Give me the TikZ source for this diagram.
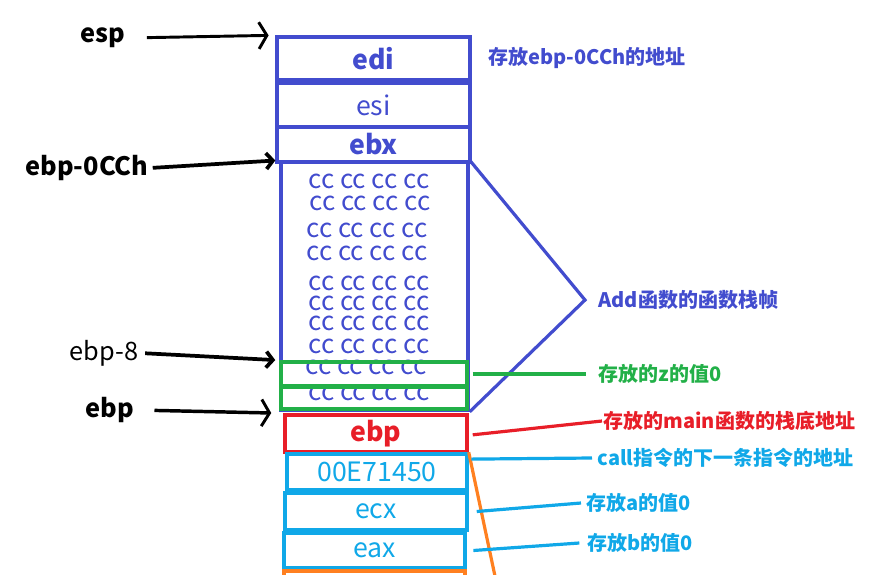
\documentclass[tikz,border=0pt]{standalone}
\usepackage{fontspec}
\setmainfont{Noto Sans CJK SC}
\usetikzlibrary{arrows.meta,fit}
\definecolor{cblue}{RGB}{66,76,206}
\definecolor{cred}{RGB}{232,30,40}
\definecolor{cgreen}{RGB}{34,176,72}
\definecolor{ccyan}{RGB}{16,168,232}
\definecolor{corange}{RGB}{255,128,32}
\tikzset{
  box/.style={draw=#1, line width=2.6pt, inner sep=0pt, rectangle},
  boxtext/.style={text=#1, inner sep=0pt, font=\fontsize{20}{22}\selectfont},
  ccrow/.style={text=cblue, inner sep=0pt, font=\fontsize{19.5}{21}\selectfont},
  rlabel/.style={anchor=west, inner sep=1pt, text=#1, font=\fontsize{15}{17}\selectfont\bfseries},
  llabel/.style={inner sep=1pt, text=black, font=\fontsize{19}{21}\selectfont},
  ptr/.style={draw=black, line width=2.8pt, -{Straight Barb[length=5pt,width=12pt,line width=2.8pt]}},
  ptrthin/.style={draw=black, line width=2.2pt, -{Straight Barb[length=6pt,width=20pt,line width=2.2pt]}},
  lead/.style={draw=#1, line width=2.4pt}
}
\begin{document}
\begin{tikzpicture}[x=0.75pt,y=-0.75pt]
\useasboundingbox (0,0) rectangle (883,575);
\clip (0,0) rectangle (883,575);
% stack boxes
\node[box=cblue, fit={(277,37) (470,80)}] (edi) {};
\node[box=cblue, fit={(277,83) (470,127)}] (esi) {};
\node[box=cblue, fit={(277,127) (470,162)}] (ebx) {};
\node[box=cblue, fit={(281,162) (468,410)}] (ccbox) {};
\node[boxtext=cblue] (editxt) at (edi.center) {\bfseries edi};
\node[boxtext=cblue] (esitxt) at (esi.center) {esi};
\node[boxtext=cblue] (ebxtxt) at (ebx.center) {\bfseries ebx};
\node[ccrow] (cc1) at (369,181) {cc cc cc cc};
\node[ccrow] (cc2) at (370,203) {cc cc cc cc};
\node[ccrow] (cc3) at (367,230) {cc cc cc cc};
\node[ccrow] (cc4) at (367,253) {cc cc cc cc};
\node[ccrow] (cc5) at (369,283) {cc cc cc cc};
\node[ccrow] (cc6) at (369,303) {cc cc cc cc};
\node[ccrow] (cc7) at (369,323) {cc cc cc cc};
\node[ccrow] (cc8) at (369,346) {cc cc cc cc};
\node[ccrow] (cc9) at (366,367) {cc cc cc cc};
\node[ccrow] (cc10) at (369,393) {cc cc cc cc};
\node[box=cgreen, fit={(281,362) (467,386)}] (zbox) {};
\node[box=cgreen, fit={(281,387) (467,409)}] (zbox2) {};
\node[box=cred, fit={(285,415) (467,452)}] (ebpbox) {};
\node[box=ccyan, fit={(287,454) (467,490)}] (ret) {};
\node[box=ccyan, fit={(285,493) (467,530)}] (ecx) {};
\node[box=ccyan, fit={(284,533) (465,568)}] (eax) {};
\node[boxtext=cred] (ebptxt) at (ebpbox.center) {\bfseries ebp};
\node[boxtext=ccyan] (rettxt) at (ret.center) {00E71450};
\node[boxtext=ccyan] (ecxtxt) at (ecx.center) {ecx};
\node[boxtext=ccyan] (eaxtxt) at (eax.center) {eax};
\node[box=corange, fit={(284,571) (465,600)}] (nextbox) {};
\coordinate (oend) at (499,595);
\draw[lead=corange] (ret.north east) -- (oend);
% bracket
\coordinate (tip) at (585,300);
\draw[lead=cblue, line join=miter] (ccbox.north east) -- (tip) -- (ccbox.south east);
% right labels
\node[rlabel=cblue] (topl) at (487,58) {存放ebp-0CCh的地址};
\node[rlabel=cblue] (addl) at (597,300) {Add函数的函数栈帧};
\node[rlabel=cgreen] (zl) at (597,374) {存放的z的值0};
\node[rlabel=cred] (mainl) at (602,421) {存放的main函数的栈底地址};
\node[rlabel=ccyan] (calll) at (596,458) {call指令的下一条指令的地址};
\node[rlabel=ccyan] (al) at (585,503) {存放a的值0};
\node[rlabel=ccyan] (bl) at (586,543) {存放b的值0};
\draw[lead=cgreen] ([xshift=3pt]zbox.east) -- ([xshift=-8pt]zl.west);
\draw[lead=cred] ([xshift=3pt,yshift=-1pt]ebpbox.east) -- (mainl.west);
\draw[lead=ccyan] ([xshift=2pt]ret.8) -- ([xshift=-3pt]calll.west);
\draw[lead=ccyan] ([xshift=6pt]ecx.east) -- ([xshift=-3pt]al.west);
\draw[lead=ccyan] ([xshift=5pt]eax.east) -- ([xshift=-5pt]bl.west);
% left pointers
\node[llabel] (espl) at (103,38) {\bfseries esp};
\node[llabel] (ccl) at (87,168) {\bfseries ebp-0CCh};
\node[llabel] (e8l) at (104,353) {ebp-8};
\node[llabel] (ebpl) at (110,410) {\bfseries ebp};
\draw[ptrthin, shorten <=15pt, shorten >=5pt] (espl.east) -- (edi.north west);
\draw[ptr, shorten <=2pt, shorten >=3pt] (ccl.east) -- (ccbox.north west);
\draw[ptr, shorten <=4pt, shorten >=3pt] (e8l.east) -- (zbox.north west);
\draw[ptrthin, line width=2.6pt, shorten <=14pt, shorten >=9pt] (ebpl.east) -- (ebpbox.north west);
\end{tikzpicture}
\end{document}
